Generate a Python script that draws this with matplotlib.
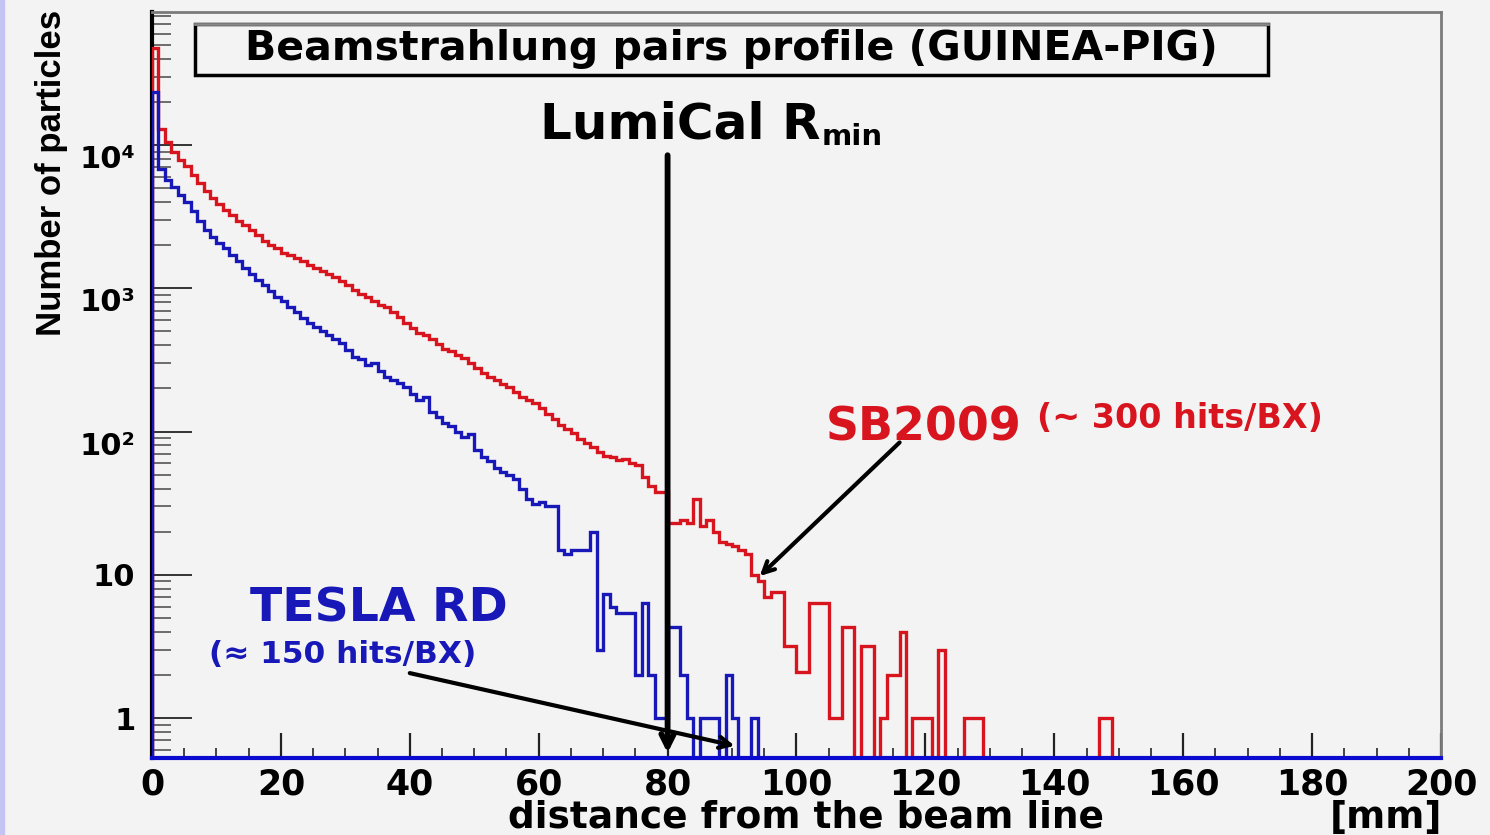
import matplotlib
matplotlib.use('Agg')
import matplotlib.pyplot as plt
import numpy as np
from matplotlib.patches import Rectangle
from matplotlib.ticker import FixedLocator, MultipleLocator, LogLocator, NullFormatter

# pair counts per 1 mm radial bin (GUINEA-PIG), SB2009 beam parameters
sb2009 = [
    48000, 12900, 10500, 8900, 7900, 7100, 6200, 5400, 4800, 4300,
    3900, 3550, 3240, 2950, 2750, 2570, 2340, 2140, 2000, 1900,
    1780, 1700, 1620, 1550, 1450, 1380, 1320, 1260, 1200, 1120,
    1050, 980, 910, 870, 810, 760, 740, 680, 630, 575,
    525, 490, 470, 440, 410, 380, 365, 340, 325, 300,
    280, 257, 240, 230, 214, 204, 190, 174, 166, 158,
    145, 132, 123, 112, 105, 98, 89, 83, 78, 72,
    68, 66, 63, 64, 60, 58, 48, 42, 38, 38,
    23, 23, 24, 23, 34, 22, 24, 20, 17, 16.5,
    16, 15, 14, 10, 9, 7, 7.6, 7.6, 3.2, 3.2,
    2.1, 2.1, 6.4, 6.4, 6.4, 1, 1, 4.3, 4.3, 0,
    3.2, 3.2, 0, 1, 2, 2, 4, 0, 1, 1,
    1, 0, 3, 0, 0, 0, 1, 1, 1, 0,
    0, 0, 0, 0, 0, 0, 0, 0, 0, 0,
    0, 0, 0, 0, 0, 0, 0, 1, 1, 0,
]

# same for the TESLA RD parameters
tesla = [
    23400, 6760, 5750, 5130, 4470, 3980, 3470, 2950, 2570, 2290,
    2090, 1900, 1700, 1550, 1380, 1260, 1150, 1050, 955, 870,
    810, 740, 680, 620, 575, 540, 500, 470, 440, 415,
    370, 330, 320, 290, 300, 265, 240, 230, 220, 204,
    182, 166, 175, 138, 126, 115, 110, 100, 91, 96,
    74, 66, 62, 56, 52, 50, 47, 40, 34, 31,
    32, 30, 30, 15, 14, 15, 15, 15, 20, 3,
    7.4, 6, 5.4, 5.4, 5.4, 2, 6.4, 2, 1, 1,
    4.3, 4.3, 2, 1, 0, 1, 1, 1, 0, 2,
    1, 0, 0, 1, 0, 0, 0, 0, 0, 0,
]

y_ticks = [1, 10, 100, 1000, 10000]
y_ticklabels = ['1', '10', '10²', '10³', '10⁴']
x_ticks = [0, 20, 40, 60, 80, 100, 120, 140, 160, 180, 200]
lumical_rmin = 80

BG = '#f3f3f3'
RED = '#d8141e'
BLUE = '#1818b8'
BOLD = dict(family='DejaVu Sans', weight='bold')

fig = plt.figure(figsize=(14.9, 8.35), dpi=100, facecolor=BG)
fig.patches.append(Rectangle((0, 0), 4 / 1490, 1, transform=fig.transFigure,
                             color='#c4c4f4', zorder=0))
ax = fig.add_axes([0.1020, 0.0922, 0.8651, 0.8934], facecolor=BG)

edges_r = np.arange(len(sb2009) + 1)
edges_b = np.arange(len(tesla) + 1)
ax.stairs(sb2009, edges_r, color=RED, lw=2.4, zorder=3)
ax.stairs(tesla, edges_b, color=BLUE, lw=2.4, zorder=4)

ax.set_yscale('log', nonpositive='clip')
ax.set_xlim(0, 200)
ax.set_ylim(0.526, 85000)

ax.yaxis.set_major_locator(FixedLocator(y_ticks))
ax.set_yticklabels(y_ticklabels, **BOLD, fontsize=22)
ax.yaxis.set_minor_locator(LogLocator(base=10, subs=np.arange(2, 10)))
ax.yaxis.set_minor_formatter(NullFormatter())
ax.set_xticks(x_ticks)
ax.set_xticklabels([str(v) for v in x_ticks], **BOLD, fontsize=25)
ax.xaxis.set_minor_locator(MultipleLocator(5))

ax.tick_params(axis='y', which='major', direction='in', length=29, width=1.4,
               color='#333333', pad=12)
ax.tick_params(axis='y', which='minor', direction='in', length=14, width=1.2,
               color='#555555')
ax.tick_params(axis='x', which='major', direction='in', length=18, width=1.6,
               color='#222222', pad=7)
ax.tick_params(axis='x', which='minor', direction='in', length=7, width=1.4,
               color='#444444')

# the powers of ten sit a little below their ticks
for lab in ax.get_yticklabels():
    if len(lab.get_text()) > 2:
        lab.set_va('top')

ax.spines['left'].set_linewidth(3)
ax.spines['left'].set_color('black')
ax.spines['bottom'].set_linewidth(3)
ax.spines['bottom'].set_color('#0a0ad0')
ax.spines['bottom'].set_zorder(5)
for s in ('top', 'right'):
    ax.spines[s].set_linewidth(2)
    ax.spines[s].set_color('#7a7a7a')

# LumiCal inner radius marker
ax.annotate('', xy=(lumical_rmin, 0.57), xytext=(lumical_rmin, 8500),
            arrowprops=dict(arrowstyle='->,head_length=0.9,head_width=0.45',
                            color='black', lw=4.2, shrinkA=0, shrinkB=0),
            zorder=6)
lumi = ax.text(60.2, 11200, 'LumiCal R', fontsize=36, ha='left', va='baseline', **BOLD)
ax.annotate('min', xy=(1, 0), xycoords=lumi, xytext=(1, -2), textcoords='offset points',
            fontsize=21, ha='left', va='bottom', **BOLD)

ax.text(104.5, 87, 'SB2009', color=RED, fontsize=33, ha='left', va='baseline', **BOLD)
ax.text(137.3, 106, '(~ 300 hits/BX)', color=RED, fontsize=24, ha='left', va='baseline',
        **BOLD)
ax.annotate('', xy=(94.3, 9.8), xytext=(116, 84),
            arrowprops=dict(arrowstyle='->,head_length=0.8,head_width=0.4',
                            color='black', lw=3, shrinkA=0, shrinkB=0), zorder=6)

ax.text(15.2, 4.75, 'TESLA RD', color=BLUE, fontsize=34, ha='left', va='baseline', **BOLD)
ax.text(8.8, 2.42, '(≈ 150 hits/BX)', color=BLUE, fontsize=22.5, ha='left', va='baseline',
        **BOLD)
ax.annotate('', xy=(90.4, 0.64), xytext=(40, 2.06),
            arrowprops=dict(arrowstyle='->,head_length=0.8,head_width=0.4',
                            color='black', lw=3, shrinkA=0, shrinkB=0), zorder=6)

# title pave
bx0, bx1, by0, by1 = 195 / 1490, 1268 / 1490, 1 - 75 / 835, 1 - 24 / 835
fig.patches.append(Rectangle((bx0, by0), bx1 - bx0, by1 - by0, transform=fig.transFigure,
                             facecolor=BG, edgecolor='black', lw=2.5, zorder=2))
fig.lines.append(plt.Line2D([bx0, bx1], [by1, by1], transform=fig.transFigure,
                            color='#888888', lw=2, zorder=2.5))
fig.text((bx0 + bx1) / 2, 1 - 49 / 835, 'Beamstrahlung pairs profile (GUINEA-PIG)',
         ha='center', va='center', fontsize=29.5, zorder=3, **BOLD)

fig.text(52 / 1490, 1 - 10 / 835, 'Number of particles', rotation=90, ha='center', va='top',
         family='Liberation Sans', weight='bold', fontsize=25)
fig.text(508 / 1490, 1 - 828 / 835, 'distance from the beam line', ha='left', va='baseline',
         fontsize=27, **BOLD)
fig.text(1442 / 1490, 1 - 828 / 835, '[mm]', ha='right', va='baseline', fontsize=27, **BOLD)

fig.savefig('out.png', dpi=100, facecolor=BG)
